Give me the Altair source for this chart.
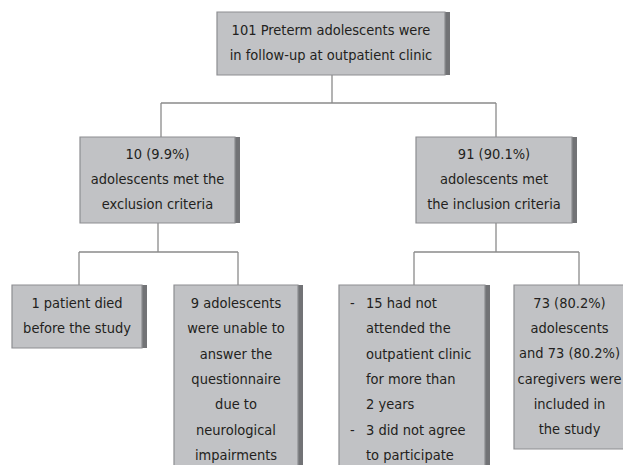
import altair as alt
import pandas as pd

# ---- content (values) ----
box_texts = [
    ["101 Preterm adolescents were", "in follow-up at outpatient clinic"],
    ["10 (9.9%)", "adolescents met the", "exclusion criteria"],
    ["91 (90.1%)", "adolescents met", "the inclusion criteria"],
    ["1 patient died", "before the study"],
    ["9 adolescents", "were unable to", "answer the", "questionnaire", "due to", "neurological", "impairments"],
    ["15 had not", "attended the", "outpatient clinic", "for more than", "2 years", "3 did not agree", "to participate"],
    ["73 (80.2%)", "adolescents", "and 73 (80.2%)", "caregivers were", "included in", "the study"],
]
bullet_lines = [0, 5]  # lines of box 6 that start with a dash

# ---- layout (image pixel frame) ----
box_x1 = [217, 80, 416, 12, 174, 339, 514]
box_x2 = [450, 240, 577, 147, 303, 490, 630]
box_y1 = [12, 137, 137, 285, 285, 285, 285]
box_y2 = [75, 223, 223, 348, 478, 478, 449]
SHADOW = 5
LINE_H = 25.3

seg_x1 = [332, 161, 161, 496, 158, 79, 79, 238, 496, 414, 414, 579]
seg_x2 = [332, 496, 161, 496, 158, 238, 79, 238, 496, 579, 414, 579]
seg_y1 = [75, 103, 103, 103, 223, 252, 252, 252, 223, 252, 252, 252]
seg_y2 = [103, 103, 137, 137, 252, 252, 285, 285, 252, 252, 285, 285]

boxes = pd.DataFrame({"x": box_x1, "x2": [b - SHADOW for b in box_x2], "y": box_y1, "y2": box_y2})
shadows = pd.DataFrame({"x": [b - SHADOW for b in box_x2], "x2": box_x2, "y": box_y1, "y2": box_y2})
segs = pd.DataFrame({"x": seg_x1, "x2": seg_x2, "y": seg_y1, "y2": seg_y2})

rows_c, rows_l, rows_d = [], [], []
for i, lines in enumerate(box_texts):
    cy = (box_y1[i] + min(box_y2[i], 475)) / 2
    cx = (box_x1[i] + box_x2[i] - SHADOW) / 2
    n = len(lines)
    for j, t in enumerate(lines):
        y = cy + (j - (n - 1) / 2) * LINE_H
        if i == 5:
            rows_l.append({"x": 366, "y": y, "t": t})
            if j in bullet_lines:
                rows_d.append({"x": 350, "y": y, "t": "-"})
        else:
            rows_c.append({"x": cx, "y": y, "t": t})
txt_c = pd.DataFrame(rows_c)
txt_l = pd.DataFrame(rows_l)
txt_d = pd.DataFrame(rows_d)

W, H = 615, 457
xs = alt.Scale(domain=[8, 8 + W], nice=False, zero=False)
ys = alt.Scale(domain=[8, 8 + H], nice=False, zero=False, reverse=True)
X = lambda f="x": alt.X(f"{f}:Q", scale=xs, axis=None)
Y = lambda f="y": alt.Y(f"{f}:Q", scale=ys, axis=None)

FONT = "DejaVu Sans Condensed"
FS = 14.5
TXT = "#231f20"

rules = alt.Chart(segs).mark_rule(color="#8a8a8a", strokeWidth=1.3).encode(
    x=X(), x2="x2:Q", y=Y(), y2="y2:Q")
shadow_l = alt.Chart(shadows).mark_rect(color="#727376").encode(
    x=X(), x2="x2:Q", y=Y(), y2="y2:Q")
box_l = alt.Chart(boxes).mark_rect(fill="#c1c2c5", stroke="#8d8e91", strokeWidth=1.2).encode(
    x=X(), x2="x2:Q", y=Y(), y2="y2:Q")
tc = alt.Chart(txt_c).mark_text(font=FONT, fontSize=FS, color=TXT, align="center", baseline="middle").encode(
    x=X(), y=Y(), text="t:N")
tl = alt.Chart(txt_l).mark_text(font=FONT, fontSize=FS, color=TXT, align="left", baseline="middle").encode(
    x=X(), y=Y(), text="t:N")
td = alt.Chart(txt_d).mark_text(font=FONT, fontSize=FS, color=TXT, align="left", baseline="middle").encode(
    x=X(), y=Y(), text="t:N")

chart = alt.layer(rules, shadow_l, box_l, tc, tl, td).properties(
    width=W, height=H, padding=0,
    autosize=alt.AutoSizeParams(type="none"),
    background="white",
).configure_view(stroke=None)

chart.save("out.html", embed_options={"renderer": "svg", "actions": False})
